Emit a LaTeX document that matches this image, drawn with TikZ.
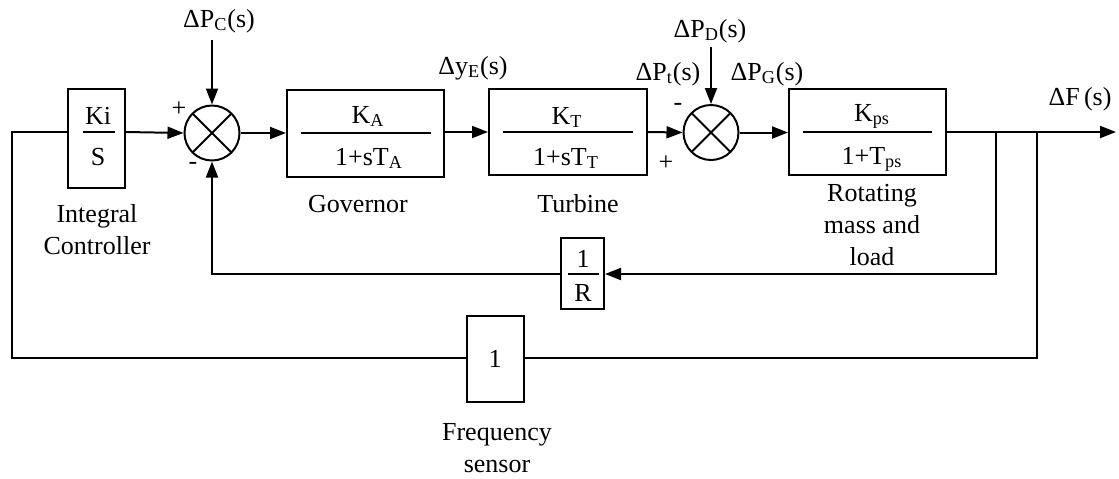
\documentclass[tikz,border=0pt]{standalone}
\usepackage{fontspec}
\setmainfont{Liberation Serif}
\usetikzlibrary{arrows.meta, positioning, calc}

\begin{document}
\begin{tikzpicture}[x=0.5pt, y=-0.5pt,
    block/.style={rectangle, draw, line width=1pt, inner sep=0pt},
    sumnode/.style={circle, draw, line width=1pt, minimum size=27.5pt, inner sep=0pt,
        path picture={\draw[line width=1pt] (path picture bounding box.north west) -- (path picture bounding box.south east)
            (path picture bounding box.north east) -- (path picture bounding box.south west);}},
    sig/.style={-{Triangle[length=8pt, width=6pt]}, line width=1pt},
    wire/.style={line width=1pt},
    bar/.style={line width=1pt},
    lbl/.style={font=\fontsize{13}{16}\selectfont, inner sep=0pt, align=center},
]
\useasboundingbox (0,0) rectangle (1119,478);

% Blocks
\node[block, minimum width=28.5pt, minimum height=49.5pt] (ctrl) at (96.5,138.5) {};
\node[lbl, anchor=base] (ctrlnum) at (98,124) {Ki};
\node[lbl, anchor=base] (ctrlden) at (98,165) {S};
\draw[bar] (83,132) -- (115,132);

\node[block, minimum width=78.5pt, minimum height=43.5pt] (gov) at (365.5,133.5) {};
\node[lbl, anchor=base] (govnum) at (368,123) {K\textsubscript{A}};
\node[lbl, anchor=base] (govden) at (369,165) {1+sT\textsubscript{A}};
\draw[bar] (301,133) -- (431,133);

\node[block, minimum width=79pt, minimum height=43pt] (turb) at (568,132) {};
\node[lbl, anchor=base] (turbnum) at (567,124) {K\textsubscript{T}};
\node[lbl, anchor=base] (turbden) at (566,165) {1+sT\textsubscript{T}};
\draw[bar] (503,132) -- (633,132);

\node[block, minimum width=78.5pt, minimum height=43pt] (rot) at (867.5,132) {};
\node[lbl, anchor=base] (rotnum) at (872,121) {K\textsubscript{ps}};
\node[lbl, anchor=base] (rotden) at (872,164) {1+T\textsubscript{ps}};
\draw[bar] (803,132) -- (932,132);

\node[block, minimum width=21.5pt, minimum height=35.5pt] (rgain) at (582.5,273.5) {};
\node[lbl, anchor=base] (rgainnum) at (583,267) {1};
\node[lbl, anchor=base] (rgainden) at (583,301) {R};
\draw[bar] (568,274) -- (599,274);

\node[block, minimum width=28.5pt, minimum height=43pt] (sens) at (495.5,359) {};
\node[lbl, anchor=base] (sensval) at (495,367) {1};

% Summing junctions
\node[sumnode] (sum1) at (212,133) {};
\node[sumnode] (sum2) at (711,132.5) {};

% Block names
\node[lbl] (ctrlname) at (97,230) {Integral\\Controller};
\node[lbl, anchor=base] (govname) at (358,212) {Governor};
\node[lbl, anchor=base] (turbname) at (578,212) {Turbine};
\node[lbl] (rotname) at (872,225) {Rotating\\mass and\\load};
\node[lbl] (sensname) at (497,448) {Frequency\\sensor};

% Signal names
\node[lbl, anchor=base] (pc) at (219,27) {ΔP\textsubscript{C}(s)};
\node[lbl, anchor=base] (ye) at (473,74) {Δy\textsubscript{E}(s)};
\node[lbl, anchor=base] (pd) at (710,37) {ΔP\textsubscript{D}(s)};
\node[lbl, anchor=base] (pt) at (668,80) {ΔP\textsubscript{t}(s)};
\node[lbl, anchor=base] (pg) at (767,80) {ΔP\textsubscript{G}(s)};
\node[lbl, anchor=base] (fout) at (1080,105) {ΔF\,(s)};

% Signs
\node[lbl] (s1plus) at (179,109) {+};
\node[lbl] (s1minus) at (193,166) {-};
\node[lbl] (s2minus) at (678,107) {-};
\node[lbl] (s2plus) at (666,163) {+};

% Points on the wires
\coordinate (pcin) at (212,40);
\coordinate (pdin) at (711,47);
\coordinate (out) at (1116,132);
\coordinate (tap1) at (996,132);
\coordinate (tap2) at (1037,132);
\coordinate (fbr) at (996,274);
\coordinate (fbl) at (212,274);
\coordinate (snr) at (1037,358);
\coordinate (snl) at (12,358);
\coordinate (ctin) at (12,132);

% Forward path
\draw[sig] (ctrl.east |- ctin) -- (sum1.west);
\draw[sig] (sum1.east) -- (gov.west |- sum1.east);
\draw[sig] (gov.east |- turb.west) -- (turb.west);
\draw[sig] (turb.east) -- (sum2.west);
\draw[sig] (sum2.east) -- (rot.west |- sum2.east);
\draw[sig] (rot.east) -- (out);
\draw[sig] (pcin) -- (sum1.north);
\draw[sig] (pdin) -- (sum2.north);

% Feedback paths
\draw[sig] (tap1) -- (fbr) -- (rgain.east |- fbr);
\draw[sig] (rgain.west |- fbl) -- (fbl) -- (sum1.south);
\draw[wire] (tap2) -- (snr) -- (sens.east |- snr);
\draw[wire] (sens.west |- snl) -- (snl) -- (ctin) -- (ctrl.west |- ctin);

\end{tikzpicture}
\end{document}
